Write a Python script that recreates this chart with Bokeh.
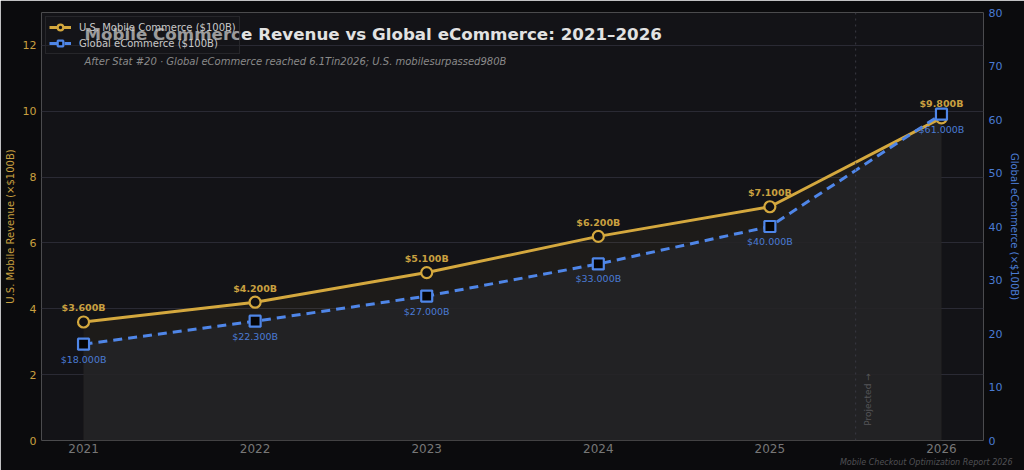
from bokeh.plotting import figure
from bokeh.models import (Range1d, LinearAxis, FixedTicker, Span, Label, Legend, LegendItem,
                          ColumnDataSource, Title)
from bokeh.core.properties import value
from bokeh.embed import file_html
from bokeh.resources import INLINE

years = [2021, 2022, 2023, 2024, 2025, 2026]
us_mobile = [3.6, 4.2, 5.1, 6.2, 7.1, 9.8]
global_ecom = [18.0, 22.3, 27.0, 33.0, 40.0, 61.0]
left_ticks = [0, 2, 4, 6, 8, 10, 12]
right_ticks = [0, 10, 20, 30, 40, 50, 60, 70, 80]
projected_x = 2025.5

title_text = "Mobile Commerce Revenue vs Global eCommerce: 2021\u20132026"
subtitle_text = "After Stat #20 \u00b7 Global eCommerce reached 6.1Tin2026; U.S. mobilesurpassed980B"
footer_text = "Mobile Checkout Optimization Report 2026"
left_label = "U.S. Mobile Revenue (\u00d7$100B)"
right_label = "Global eCommerce (\u00d7$100B)"

GOLD = "#d4a83e"
GOLD_TXT = "#c9a040"
BLUE = "#4f86e8"
BLUE_TXT = "#4a7bd4"
FONT = "DejaVu Sans"
FH = 428  # frame height in px

src = ColumnDataSource(dict(
    x=years, us=us_mobile, gl=global_ecom, zero=[0] * len(years),
    us_lbl=[f"${v:.3f}B" for v in us_mobile],
    gl_lbl=[f"${v:.3f}B" for v in global_ecom],
))

p = figure(width=1024, height=470, output_backend="svg", toolbar_location=None,
           x_range=Range1d(2020.755, 2026.245), y_range=Range1d(0, 13),
           min_border_left=41, min_border_right=41, min_border_top=12, min_border_bottom=30)
p.extra_y_ranges = {"right": Range1d(0, 80)}

p.background_fill_color = "#131317"
p.border_fill_color = "#0b0b0d"
p.outline_line_color = None

legend = Legend(location="top_left", level="underlay")

# fills
p.varea(x="x", y1="zero", y2="us", source=src, fill_color=GOLD, fill_alpha=0.06)
p.varea(x="x", y1="zero", y2="gl", source=src, fill_color="#242426", fill_alpha=0.9,
        y_range_name="right")

# grid
p.xgrid.visible = False
p.ygrid.ticker = FixedTicker(ticks=left_ticks)
p.ygrid.grid_line_color = "#2a2a34"
p.ygrid.grid_line_width = 1

# projected marker
p.add_layout(Span(location=projected_x, dimension="height", line_color="#3a3a44",
                  line_dash="dotted", line_width=1))

# lines
l1 = p.line("x", "us", source=src, line_color=GOLD, line_width=3)
s1 = p.scatter("x", "us", source=src, marker="circle", size=11, fill_color="#111114",
               line_color=GOLD, line_width=2.2)
l2 = p.line("x", "gl", source=src, line_color=BLUE, line_width=3, line_dash="9 6",
            y_range_name="right")
s2 = p.scatter("x", "gl", source=src, marker="square", size=11, fill_color="#050507",
               line_color=BLUE, line_width=2.2, y_range_name="right")

# point labels
p.text("x", "us", text="us_lbl", source=src, y_offset=-14, text_align="center",
       text_baseline="middle", text_font=value(FONT), text_font_size="9.5px",
       text_font_style="bold", text_color=GOLD_TXT)
p.text("x", "gl", text="gl_lbl", source=src, y_offset=15, text_align="center",
       text_baseline="middle", text_font=value(FONT), text_font_size="9.5px",
       text_color=BLUE_TXT, y_range_name="right")

def style_axis(ax, color, size):
    ax.axis_line_color = None
    ax.major_tick_line_color = None
    ax.minor_tick_line_color = None
    ax.major_tick_out = 0
    ax.major_tick_in = 0
    ax.minor_tick_out = 0
    ax.minor_tick_in = 0
    ax.major_label_text_color = color
    ax.major_label_text_font = FONT
    ax.major_label_text_font_size = size

# axes
p.xaxis.ticker = FixedTicker(ticks=years)
style_axis(p.xaxis[0], "#777777", "12px")
p.xaxis.major_label_standoff = 3

p.yaxis.ticker = FixedTicker(ticks=left_ticks)
style_axis(p.yaxis[0], GOLD_TXT, "11px")
p.yaxis.major_label_standoff = 5
p.yaxis.axis_label = left_label
p.yaxis.axis_label_text_color = GOLD_TXT
p.yaxis.axis_label_text_font = FONT
p.yaxis.axis_label_text_font_size = "10px"
p.yaxis.axis_label_text_font_style = "normal"
p.yaxis.axis_label_standoff = 4

ra = LinearAxis(y_range_name="right", ticker=FixedTicker(ticks=right_ticks))
style_axis(ra, BLUE_TXT, "11px")
ra.major_label_standoff = 5
ra.axis_label = right_label
ra.axis_label_text_color = BLUE_TXT
ra.axis_label_text_font = FONT
ra.axis_label_text_font_size = "10px"
ra.axis_label_text_font_style = "normal"
ra.axis_label_standoff = 4
p.add_layout(ra, "right")

# legend
legend.items = [
    LegendItem(label="U.S. Mobile Commerce ($100B)", renderers=[l1, s1]),
    LegendItem(label="Global eCommerce ($100B)", renderers=[l2, s2]),
]
legend.margin = 4
legend.padding = 3
legend.spacing = 2
legend.glyph_width = 22
legend.glyph_height = 14
legend.label_height = 14
legend.label_standoff = 8
legend.label_text_font = FONT
legend.label_text_font_size = "10px"
legend.label_text_color = "#c8c8c8"
legend.background_fill_color = "#16161b"
legend.background_fill_alpha = 0.35
legend.border_line_color = "#2a2a30"
legend.border_line_alpha = 0.8
p.add_layout(legend, "center")

# title, subtitle
p.add_layout(Label(x=84 - 41, y=FH - 21, x_units="screen", y_units="screen",
                   text=title_text, text_font=FONT, text_font_size="16.7px",
                   text_font_style="bold", text_color="#e2e2e2", text_baseline="middle",
                   level="overlay"))
p.add_layout(Label(x=84 - 41, y=FH - 49, x_units="screen", y_units="screen",
                   text=subtitle_text, text_font=FONT, text_font_size="10px",
                   text_font_style="italic", text_color="#8a8a8a", text_baseline="middle",
                   level="overlay"))

# projected text
p.add_layout(Label(x=projected_x + 0.07, y=0.45, text="Projected \u2192", angle=1.5708,
                   text_font=FONT, text_font_size="9px", text_color="#555558",
                   text_baseline="middle", text_align="left"))

# footer
p.add_layout(Title(text=footer_text, align="right", text_font=FONT, text_font_size="8px",
                   text_font_style="italic", text_color="#505054", standoff=0,
                   offset=-29), "below")

open("out.html", "w").write(file_html(p, INLINE))
